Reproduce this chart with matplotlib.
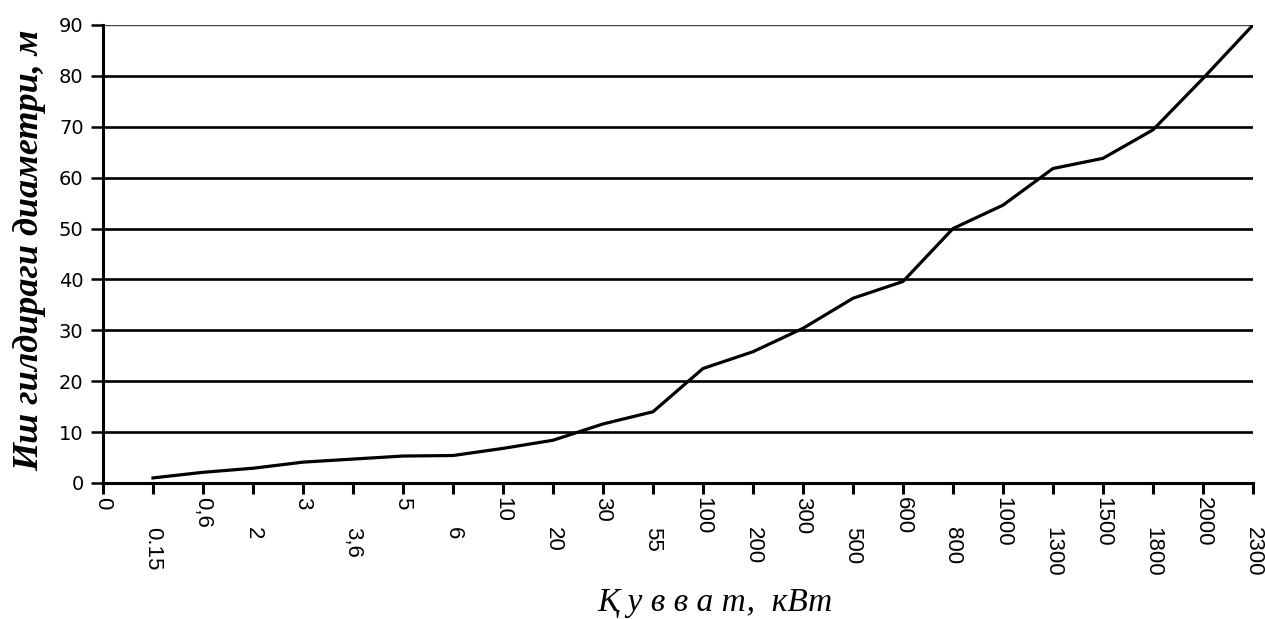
import matplotlib
matplotlib.use("Agg")
import matplotlib.pyplot as plt

# Data
power_labels = ["0", "0.15", "0,6", "2", "3", "3,6", "5", "6", "10", "20", "30", "55",
                "100", "200", "300", "500", "600", "800", "1000", "1300", "1500",
                "1800", "2000", "2300"]
diameter = [None, 1.0, 2.1, 2.9, 4.1, 4.7, 5.3, 5.4, 6.8, 8.4, 11.6, 14.0,
            22.5, 25.8, 30.4, 36.3, 39.6, 50.0, 54.6, 61.8, 63.8, 69.4, 79.5, 90.0]
y_ticks = [0, 10, 20, 30, 40, 50, 60, 70, 80, 90]

W, H = 1265, 619
fig = plt.figure(figsize=(W / 100, H / 100), dpi=100)
ax = fig.add_axes([103 / W, (H - 483) / H, (1253 - 103) / W, (483 - 25) / H])

xs = [i for i, v in enumerate(diameter) if v is not None]
ys = [v for v in diameter if v is not None]
ax.plot(xs, ys, color="black", lw=2.3, solid_joinstyle="round", zorder=3)

ax.set_xlim(0, len(power_labels) - 1)
ax.set_ylim(0, 90)

# axes look
for s in ["top", "right"]:
    ax.spines[s].set_visible(False)
ax.spines["left"].set_linewidth(2.2)
ax.spines["bottom"].set_linewidth(2.2)

ax.set_yticks(y_ticks)
ax.set_yticklabels([str(t) for t in y_ticks], family="DejaVu Sans", fontsize=14)
ax.tick_params(axis="y", direction="out", length=9, width=1.8, pad=5, colors="black")

ax.set_xticks(range(len(power_labels)))
ax.set_xticklabels(power_labels, rotation=-90, ha="center", va="top",
                   family="Liberation Sans", fontsize=16)
ax.tick_params(axis="x", direction="out", length=8, width=2.2, pad=2.4, colors="black")
for i, t in enumerate(ax.xaxis.get_major_ticks()):
    if i % 2 == 1:
        t.set_pad(24)

ax.yaxis.grid(True, color="black", lw=1.9)
ax.set_axisbelow(True)
ax.yaxis.get_gridlines()[-1].set_linewidth(1.0)
ax.yaxis.get_gridlines()[-1].set_color("#444444")

fig.text(30 / W, (H - 250) / H, "Иш гилдираги диаметри, м", rotation=90,
         ha="center", va="center", family="Liberation Serif", style="italic",
         weight="bold", fontsize=26)
fig.text(715 / W, (H - 603) / H, "Қ у в в а т,  кВт", ha="center", va="center",
         family="Liberation Serif", style="italic", fontsize=24)

fig.savefig("out.png", dpi=100, facecolor="white")
